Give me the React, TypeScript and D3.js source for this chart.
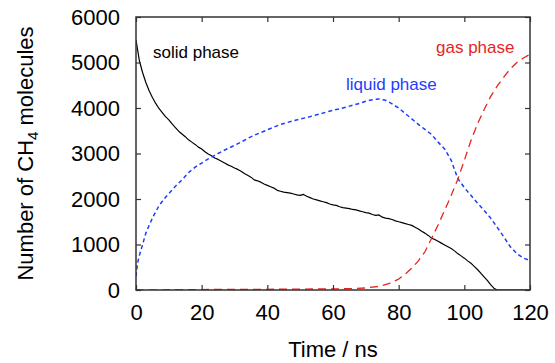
import React, { useRef, useEffect } from "react";
import { select, scaleLinear, axisLeft, axisBottom, axisTop, axisRight, line, format } from "d3";

// solid phase (black line)
const solidTime = [
  0, 1, 2, 3, 4, 5, 6, 7, 8, 9, 10, 11, 12, 13, 14, 15, 16, 17, 18, 19, 20,
  21, 22, 23, 24, 25, 26, 27, 28, 29, 30, 31, 32, 33, 34, 35, 36, 37, 38, 39, 40,
  41, 42, 43, 44, 45, 46, 47, 48, 49, 50, 51, 52, 53, 54, 55, 56, 57, 58, 59, 60,
  61, 62, 63, 64, 65, 66, 67, 68, 69, 70, 71, 72, 73, 74, 75, 76, 77, 78, 79, 80,
  81, 82, 83, 84, 85, 86, 87, 88, 89, 90, 91, 92, 93, 94, 95, 96, 97, 98, 99, 100,
  101, 102, 103, 104, 105, 106, 107, 108, 109, 110, 115, 120,
];
const solidCount = [
  5500, 5050, 4780, 4560, 4380, 4230, 4100, 3990, 3900, 3810, 3740, 3650, 3570, 3490, 3430, 3370, 3300, 3250, 3200, 3140, 3100,
  3040, 2990, 2950, 2900, 2870, 2830, 2790, 2750, 2720, 2680, 2650, 2610, 2560, 2520, 2480, 2420, 2400, 2370, 2330, 2300,
  2270, 2240, 2190, 2170, 2150, 2140, 2130, 2110, 2090, 2080, 2100, 2060, 2030, 2000, 1980, 1960, 1940, 1920, 1890, 1870,
  1860, 1830, 1810, 1800, 1790, 1770, 1760, 1740, 1720, 1700, 1690, 1660, 1640, 1650, 1600, 1580, 1570, 1550, 1520, 1500,
  1480, 1460, 1440, 1420, 1380, 1340, 1290, 1250, 1200, 1140, 1110, 1070, 1030, 990, 950, 910, 860, 800, 750, 700,
  640, 590, 520, 450, 370, 290, 210, 120, 40, 0, 0, 0,
];

// liquid phase (blue dotted)
const liquidTime = [
  0, 0.5, 1, 2, 3, 4, 5, 6, 7, 8, 9, 10, 12, 14, 16, 18, 20, 22, 24, 26, 28, 30,
  32, 34, 36, 38, 40, 42, 44, 46, 48, 50, 52, 54, 56, 58, 60, 62, 64, 66, 68, 70,
  72, 74, 76, 78, 80, 82, 84, 86, 88, 90, 92, 94, 96, 98, 100, 102, 104, 106, 108,
  110, 112, 114, 116, 118, 120,
];
const liquidCount = [
  300, 600, 750, 1000, 1250, 1420, 1580, 1720, 1850, 1950, 2040, 2120, 2280, 2420, 2580, 2700, 2790, 2880, 2960, 3040, 3110, 3180,
  3250, 3330, 3400, 3460, 3520, 3580, 3640, 3680, 3720, 3760, 3790, 3830, 3870, 3910, 3950, 3980, 4020, 4060, 4100, 4150,
  4180, 4200, 4170, 4090, 4000, 3880, 3760, 3640, 3530, 3420, 3250, 3100, 2850, 2450, 2250, 2080, 1910, 1750, 1580,
  1380, 1170, 950, 800, 700, 650,
];

// gas phase (red dashed)
const gasTime = [
  0, 10, 20, 30, 40, 50, 60, 66, 70, 74, 77, 80, 82, 84, 86, 88, 90, 92, 94, 96, 98,
  100, 102, 104, 106, 108, 110, 112, 114, 116, 118, 120,
];
const gasCount = [
  0, 5, 10, 15, 15, 20, 25, 30, 45, 80, 140, 240, 350, 480, 640, 840, 1130, 1430, 1750, 2080, 2430,
  2850, 3280, 3650, 3960, 4250, 4480, 4680, 4860, 5000, 5100, 5180,
];

const xTicks = [0, 20, 40, 60, 80, 100, 120];
const yTicks = [0, 1000, 2000, 3000, 4000, 5000, 6000];

const series = [
  { name: "solid phase", time: solidTime, count: solidCount, color: "#000000", dash: null, width: 1.2, lx: 153, ly: 58 },
  { name: "liquid phase", time: liquidTime, count: liquidCount, color: "#1f3dff", dash: "4,3", width: 1.5, lx: 346, ly: 90 },
  { name: "gas phase", time: gasTime, count: gasCount, color: "#e5261f", dash: "8,5", width: 1.3, lx: 436, ly: 53 },
];

const W = 555;
const H = 363;
const margin = { left: 136, right: 25, top: 17, bottom: 73 };

function App() {
  const svgRef = useRef(null);

  useEffect(() => {
    const svg = select(svgRef.current);
    svg.selectAll("*").remove();
    const font = "'Liberation Sans', Arial, Helvetica, sans-serif";

    const x = scaleLinear().domain([0, 120]).range([margin.left, W - margin.right]);
    const y = scaleLinear().domain([0, 6000]).range([H - margin.bottom, margin.top]);

    svg.append("defs").append("clipPath").attr("id", "plot-clip")
      .append("rect")
      .attr("x", margin.left).attr("y", margin.top)
      .attr("width", W - margin.left - margin.right)
      .attr("height", H - margin.top - margin.bottom);

    // lines
    const gLines = svg.append("g").attr("clip-path", "url(#plot-clip)");
    series.forEach((s) => {
      const pts = s.time.map((t, i) => [t, s.count[i]]);
      const path = line().x((d) => x(d[0])).y((d) => y(d[1]));
      gLines.append("path")
        .attr("d", path(pts))
        .attr("fill", "none")
        .attr("stroke", s.color)
        .attr("stroke-width", s.width)
        .attr("stroke-dasharray", s.dash)
        .attr("stroke-linejoin", "round");
    });

    // axes, ticks pointing inward on all 4 sides
    const styleAxis = (g) => {
      g.select(".domain").remove();
      g.selectAll(".tick line").attr("stroke", "#333").attr("stroke-width", 1.2);
      g.selectAll("text").attr("font-family", font).attr("font-size", 22).attr("fill", "#000");
    };
    svg.append("g").attr("transform", `translate(0,${H - margin.bottom})`)
      .call(axisBottom(x).tickValues(xTicks).tickFormat(format("d")).tickSizeInner(-5).tickSizeOuter(0).tickPadding(14))
      .call(styleAxis);
    svg.append("g").attr("transform", `translate(${margin.left},0)`)
      .call(axisLeft(y).tickValues(yTicks).tickFormat(format("d")).tickSizeInner(-5).tickSizeOuter(0).tickPadding(16))
      .call(styleAxis);
    svg.append("g").attr("transform", `translate(0,${margin.top})`)
      .call(axisTop(x).tickValues(xTicks).tickSizeInner(-5).tickSizeOuter(0).tickFormat(() => ""))
      .call(styleAxis);
    svg.append("g").attr("transform", `translate(${W - margin.right},0)`)
      .call(axisRight(y).tickValues(yTicks).tickSizeInner(-5).tickSizeOuter(0).tickFormat(() => ""))
      .call(styleAxis);

    // frame
    svg.append("rect")
      .attr("x", margin.left).attr("y", margin.top)
      .attr("width", W - margin.left - margin.right)
      .attr("height", H - margin.top - margin.bottom)
      .attr("fill", "none")
      .attr("stroke", "#333")
      .attr("stroke-width", 1.5);

    // series labels
    series.forEach((s) => {
      svg.append("text")
        .attr("x", s.lx).attr("y", s.ly)
        .attr("font-family", font).attr("font-size", 17)
        .attr("fill", s.color)
        .text(s.name);
    });

    // axis titles
    svg.append("text")
      .attr("x", (margin.left + W - margin.right) / 2).attr("y", 357)
      .attr("text-anchor", "middle")
      .attr("font-family", font).attr("font-size", 22)
      .text("Time / ns");

    const yt = svg.append("text")
      .attr("transform", `translate(33,${(margin.top + H - margin.bottom) / 2}) rotate(-90)`)
      .attr("text-anchor", "middle")
      .attr("font-family", font).attr("font-size", 22);
    yt.append("tspan").text("Number of CH");
    yt.append("tspan").attr("font-size", 15).attr("dy", 5).text("4");
    yt.append("tspan").attr("dy", -5).text(" molecules");
  }, []);

  return (
    <div style={{ position: "absolute", left: 0, top: 0 }}>
      <svg ref={svgRef} width={W} height={H} style={{ display: "block", background: "#fff" }}></svg>
    </div>
  );
}

export default App;
